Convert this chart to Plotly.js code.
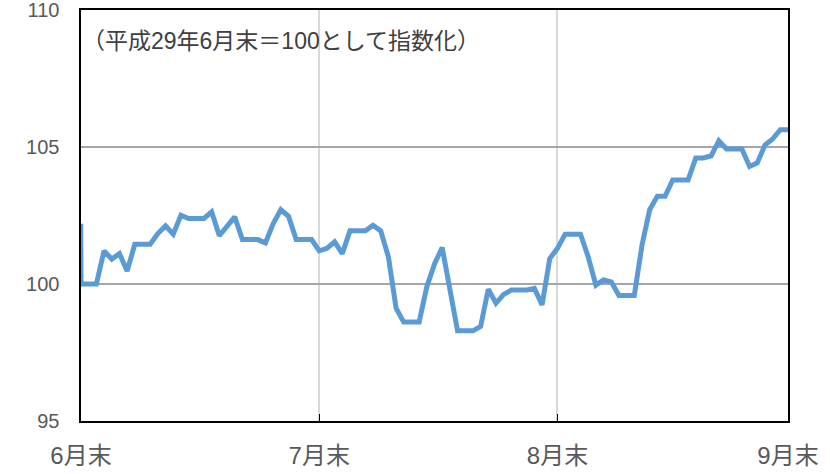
<!DOCTYPE html>
<html>
<head>
<meta charset="utf-8">
<script src="https://cdn.plot.ly/plotly-3.0.1.min.js"></script>
<style>html,body{margin:0;padding:0;background:#fff;}#chart{width:830px;height:474px;}</style>
</head>
<body>
<div id="chart"></div>
<script>
// Daily index values (平成29年6月末 = 100)
const dates = [
  '2017-06-29 23:00','2017-06-30','2017-07-02','2017-07-03','2017-07-04','2017-07-05','2017-07-06','2017-07-07',
  '2017-07-09','2017-07-10','2017-07-11','2017-07-12','2017-07-13','2017-07-14','2017-07-16','2017-07-17',
  '2017-07-18','2017-07-20','2017-07-21','2017-07-23','2017-07-24','2017-07-25','2017-07-26','2017-07-27',
  '2017-07-28','2017-07-30','2017-07-31','2017-08-01','2017-08-02','2017-08-03','2017-08-04','2017-08-06',
  '2017-08-07','2017-08-08','2017-08-09','2017-08-10','2017-08-11','2017-08-13','2017-08-14','2017-08-15',
  '2017-08-16','2017-08-17','2017-08-18','2017-08-20','2017-08-21','2017-08-22','2017-08-23','2017-08-24',
  '2017-08-25','2017-08-27','2017-08-28','2017-08-29','2017-08-30','2017-08-31','2017-09-01','2017-09-03',
  '2017-09-04','2017-09-05','2017-09-06','2017-09-07','2017-09-08','2017-09-10','2017-09-11','2017-09-12',
  '2017-09-13','2017-09-14','2017-09-15','2017-09-17','2017-09-18','2017-09-19','2017-09-20','2017-09-21',
  '2017-09-22','2017-09-24','2017-09-25','2017-09-26','2017-09-27','2017-09-28','2017-09-29','2017-09-30'
];
const indexValues = [
  102.2,100.00,100.00,101.21,100.91,101.11,100.47,101.45,
  101.45,101.84,102.12,101.82,102.51,102.39,102.39,102.63,
  101.76,102.45,101.62,101.62,101.50,102.20,102.71,102.47,
  101.62,101.62,101.21,101.30,101.54,101.11,101.94,101.94,
  102.14,101.94,100.99,99.12,98.61,98.61,99.90,100.73,
  101.33,99.75,98.29,98.29,98.45,99.81,99.30,99.62,
  99.78,99.78,99.84,99.24,100.93,101.30,101.82,101.82,
  100.99,99.96,100.15,100.08,99.58,99.58,101.42,102.71,
  103.20,103.20,103.80,103.80,104.60,104.60,104.68,105.23,
  104.93,104.93,104.29,104.42,105.07,105.29,105.63,105.63
];
const xTickVals = ['2017-06-30','2017-07-31','2017-08-31','2017-09-30'];
const xTickText = ['6月末','7月末','8月末','9月末'];
const yTickVals = [95,100,105,110];
const noteText = '（平成29年6月末＝100として指数化）';

const trace = {
  x: dates, y: indexValues, type: 'scatter', mode: 'lines',
  line: {color: '#5B9BD5', width: 5, shape: 'linear'},
  hoverinfo: 'skip'
};

const layout = {
  width: 830, height: 474,
  margin: {l: 81, r: 42, t: 10, b: 53},
  paper_bgcolor: '#ffffff', plot_bgcolor: '#ffffff',
  showlegend: false,
  xaxis: {
    type: 'date', range: ['2017-06-30','2017-09-30'],
    tickmode: 'array', tickvals: xTickVals, ticktext: xTickText,
    ticks: 'inside', ticklen: 7, tickwidth: 1.3, tickcolor: '#000',
    showgrid: true, gridcolor: '#D9D9D9', gridwidth: 2,
    showline: true, linecolor: '#000', linewidth: 1.6, mirror: true,
    zeroline: false, ticklabelstandoff: 13, ticklabeloverflow: 'allow',
    tickfont: {family: '"Liberation Sans", "Noto Sans CJK JP", sans-serif', size: 24, color: '#595959'}
  },
  yaxis: {
    range: [95,110], tickmode: 'array', tickvals: yTickVals,
    ticks: '', showgrid: true, gridcolor: '#A6A6A6', gridwidth: 2,
    showline: true, linecolor: '#000', linewidth: 1.6, mirror: true,
    zeroline: false, ticklabelstandoff: 16, ticklabeloverflow: 'allow',
    tickfont: {family: '"Liberation Sans", Arial, sans-serif', size: 20, color: '#595959'}
  },
  annotations: [{
    text: noteText, xref: 'paper', yref: 'paper', x: -0.001, y: 0.925,
    xanchor: 'left', yanchor: 'middle', showarrow: false,
    font: {family: '"Liberation Sans", "Noto Sans CJK JP", sans-serif', size: 23, color: '#404040'}
  }]
};

Plotly.newPlot('chart', [trace], layout, {displayModeBar: false, staticPlot: true});
</script>
</body>
</html>
